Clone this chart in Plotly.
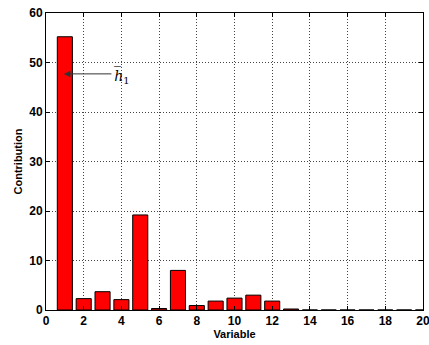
import plotly.graph_objects as go

variables = list(range(1, 21))
contribution = [55.2, 2.3, 3.7, 2.1, 19.2, 0.3, 8.0, 0.9, 1.8, 2.4, 3.0, 1.8, 0.2,
                0, 0, 0, 0, 0, 0, 0]
x_ticks = list(range(0, 21, 2))
y_ticks = list(range(0, 61, 10))

fig = go.Figure()
fig.add_trace(go.Bar(x=variables, y=contribution, width=0.8,
                     marker=dict(color="#ff0000", line=dict(color="#000000", width=1))))

tfont = dict(family="Liberation Sans", size=12, color="black", weight=700)
common = dict(ticks="inside", ticklen=4, tickcolor="black",
              showline=True, linecolor="black", linewidth=1, mirror="ticks",
              showgrid=True, gridcolor="#444444", griddash="1px,2px", gridwidth=1,
              zeroline=False, tickfont=tfont, ticklabeloverflow="allow")
fig.update_layout(
    width=429, height=345,
    margin=dict(l=46, r=6, t=13, b=35),
    plot_bgcolor="white", paper_bgcolor="white",
    showlegend=False,
    font=dict(family="Liberation Sans, Arial", size=11, color="black"),
    xaxis=dict(range=[0, 20], tickvals=x_ticks, automargin=False,
               title=dict(text="<b>Variable</b>", standoff=2, font=dict(size=11)),
               **common),
    yaxis=dict(range=[0, 60], tickvals=y_ticks, automargin=False,
               title=dict(text="<b>Contribution</b>", standoff=4, font=dict(size=11)),
               **common),
)

fig.add_annotation(x=0.95, y=47.7, ax=3.55, ay=47.7, xref="x", yref="y",
                   axref="x", ayref="y", text="", showarrow=True,
                   arrowhead=2, arrowsize=1.3, arrowwidth=1, arrowcolor="#333333")
fig.add_annotation(x=3.5, y=47.3, xref="x", yref="y", xanchor="left",
                   text="<i>h\u0305</i><sub>1</sub>", showarrow=False,
                   font=dict(family="DejaVu Serif", size=14, color="black"))

fig.write_html("out.html")
